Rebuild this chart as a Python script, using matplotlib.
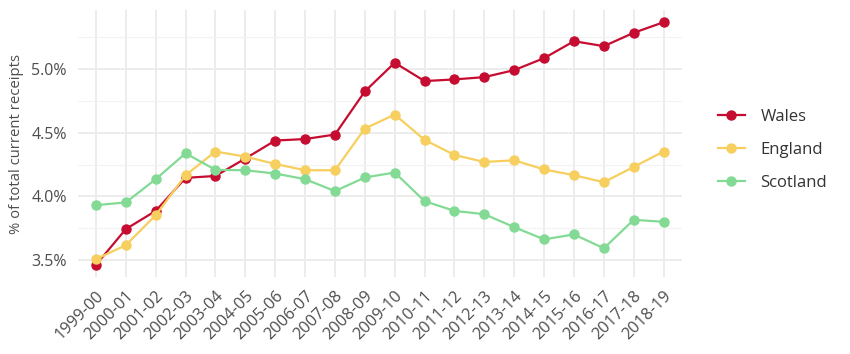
import matplotlib
matplotlib.use("Agg")
import matplotlib.pyplot as plt
from matplotlib.ticker import MultipleLocator, FuncFormatter

years = ["1999-00", "2000-01", "2001-02", "2002-03", "2003-04", "2004-05", "2005-06",
         "2006-07", "2007-08", "2008-09", "2009-10", "2010-11", "2011-12", "2012-13",
         "2013-14", "2014-15", "2015-16", "2016-17", "2017-18", "2018-19"]
wales = [3.463, 3.744, 3.887, 4.146, 4.161, 4.298, 4.439, 4.451, 4.486, 4.825,
         5.050, 4.906, 4.919, 4.937, 4.992, 5.086, 5.219, 5.180, 5.285, 5.368]
england = [3.508, 3.618, 3.853, 4.167, 4.353, 4.313, 4.255, 4.206, 4.206, 4.533,
           4.643, 4.444, 4.326, 4.271, 4.284, 4.212, 4.167, 4.112, 4.232, 4.353]
scotland = [3.932, 3.953, 4.136, 4.339, 4.209, 4.206, 4.180, 4.136, 4.042, 4.149,
            4.188, 3.963, 3.887, 3.861, 3.759, 3.663, 3.702, 3.593, 3.817, 3.801]

series = [("Wales", wales, "#C60C30"),
          ("England", england, "#F6CF5E"),
          ("Scotland", scotland, "#83DA95")]

plt.rcParams['font.family'] = ['Open Sans', 'DejaVu Sans']

fig = plt.figure(figsize=(8.5, 3.54), dpi=100)
ax = fig.add_axes([0.0918, 0.2175, 0.710, 0.754])

x = list(range(len(years)))
for name, vals, col in series:
    ax.plot(x, vals, color=col, lw=1.6, marker='o', ms=6.5, label=name, zorder=3)

ax.set_xlim(-0.6, len(years) - 1 + 0.6)
ymin = min(min(wales), min(england), min(scotland))
ymax = max(max(wales), max(england), max(scotland))
rng = ymax - ymin
ax.set_ylim(ymin - 0.05 * rng, ymax + 0.05 * rng)

ax.set_xticks(x)
ax.set_xticklabels(years, rotation=45, ha='right', va='top', rotation_mode='anchor')
ax.yaxis.set_major_locator(MultipleLocator(0.5))
ax.yaxis.set_minor_locator(MultipleLocator(0.25))
ax.yaxis.set_major_formatter(FuncFormatter(lambda v, p: f"{v:.1f}%"))

ax.grid(which='major', color='#EBEBEB', lw=1.3, zorder=0)
ax.grid(which='minor', axis='y', color='#F2F2F2', lw=0.8, zorder=0)
ax.set_axisbelow(True)
for s in ax.spines.values():
    s.set_visible(False)
ax.tick_params(which='both', length=0, labelsize=11.5, colors='#4D4D4D')
ax.tick_params(axis='y', pad=8)
ax.tick_params(axis='x', pad=8, labelsize=11.8)
ax.set_ylabel("% of total current receipts", fontsize=10.7, color='#4D4D4D')
ax.yaxis.set_label_coords(-0.0894, 0.5)

leg = ax.legend(loc='center left', bbox_to_anchor=(703 / 850, 1 - 150 / 354),
                bbox_transform=fig.transFigure, frameon=False,
                fontsize=12, handlelength=1.6, labelspacing=1.0, handletextpad=0.95)
for t in leg.get_texts():
    t.set_color('#333333')

fig.savefig("out.png", dpi=100, facecolor='white')
